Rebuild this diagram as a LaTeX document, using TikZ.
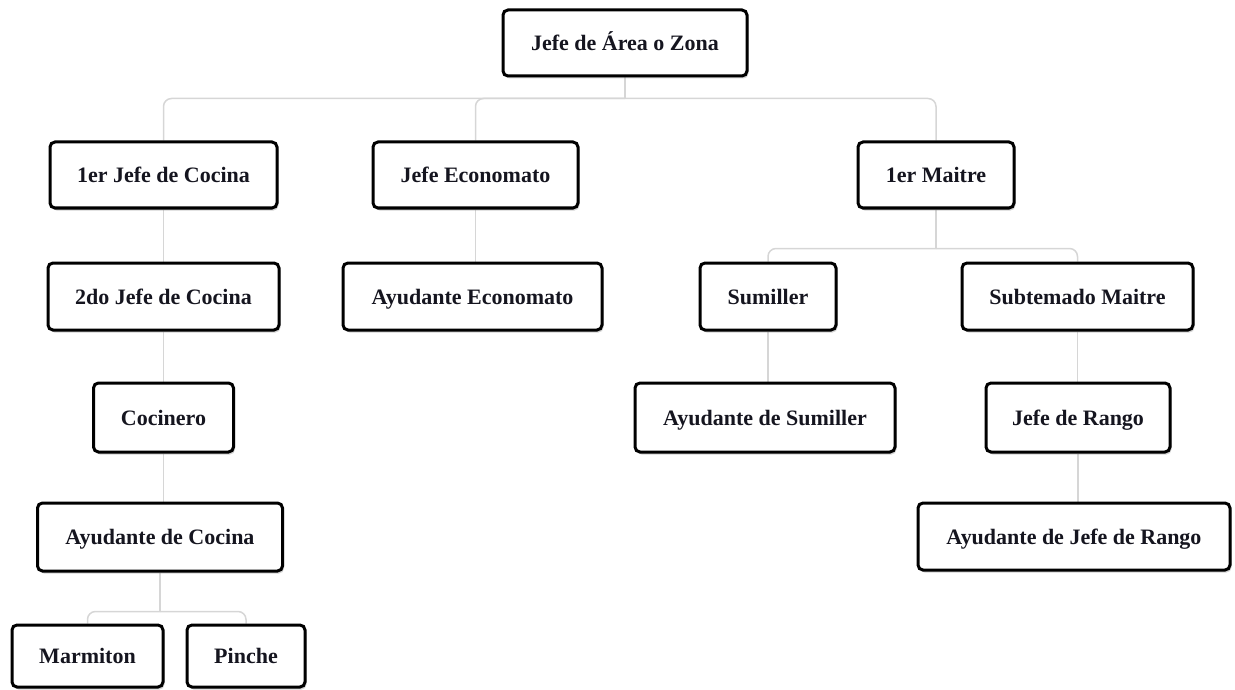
\documentclass[tikz,border=0pt]{standalone}
\usepackage{fontspec}
\setmainfont{Liberation Serif}
\usetikzlibrary{shadows,backgrounds}
\definecolor{linkgray}{HTML}{D6D6D6}
\definecolor{txt}{HTML}{15151F}
\tikzset{
  orgbox/.style={draw=black, line width=3pt, rounded corners=5pt, fill=white,
    drop shadow={shadow xshift=1.5pt, shadow yshift=-2.5pt, opacity=0.35},
    inner sep=0pt, text height=15pt, text depth=0pt, text=txt,
    font=\fontsize{22}{26}\selectfont\bfseries},
  link/.style={draw=linkgray, line width=1.5pt},
  rlink/.style={link, rounded corners=8pt}
}
\begin{document}
\begin{tikzpicture}[x=1pt,y=-1pt]
\useasboundingbox (0,0) rectangle (1235,690);
% boxes
\node[orgbox, minimum width=244pt, minimum height=66pt] (top) at (625,43) {Jefe de Área o Zona};
\node[orgbox, minimum width=227pt, minimum height=66pt] (coc1) at (163.5,175) {1er Jefe de Cocina};
\node[orgbox, minimum width=205pt, minimum height=66pt] (econ) at (475.5,175) {Jefe Economato};
\node[orgbox, minimum width=156pt, minimum height=66pt] (mait) at (936,175) {1er Maitre};
\node[orgbox, minimum width=231pt, minimum height=67pt] (coc2) at (163.5,296.5) {2do Jefe de Cocina};
\node[orgbox, minimum width=259pt, minimum height=67pt] (ayecon) at (472.5,296.5) {Ayudante Economato};
\node[orgbox, minimum width=136pt, minimum height=67pt] (sum) at (768,296.5) {Sumiller};
\node[orgbox, minimum width=231pt, minimum height=67pt] (subt) at (1077.5,296.5) {Subtemado Maitre};
\node[orgbox, minimum width=140pt, minimum height=69pt] (cocinero) at (163.5,417.5) {Cocinero};
\node[orgbox, minimum width=260pt, minimum height=69pt] (aysum) at (765,417.5) {Ayudante de Sumiller};
\node[orgbox, minimum width=184pt, minimum height=69pt] (rango) at (1078,417.5) {Jefe de Rango};
\node[orgbox, minimum width=245pt, minimum height=68pt] (aycoc) at (160,537) {Ayudante de Cocina};
\node[orgbox, minimum width=312pt, minimum height=67pt] (ayrango) at (1074,536.5) {Ayudante de Jefe de Rango};
\node[orgbox, minimum width=151pt, minimum height=62pt] (marm) at (87.5,656) {Marmiton};
\node[orgbox, minimum width=118pt, minimum height=62pt] (pinche) at (246,656) {Pinche};
% connectors
\begin{scope}[on background layer]
\coordinate (j0) at ([yshift=-21pt]top.south);
\coordinate (j1) at ([yshift=-39pt]mait.south);
\coordinate (j2) at ([yshift=-39pt]aycoc.south);
\draw[link] (top.south) -- (j0);
\draw[rlink] (j0) -| (coc1.north);
\draw[rlink] (j0) -| (econ.north);
\draw[rlink] (j0) -| (mait.north);
\draw[link] (coc1.south) -- (coc2.north);
\draw[link] (coc2.south) -- (cocinero.north);
\draw[link] (cocinero.south) -- (cocinero.south |- aycoc.north);
\draw[link] (econ.south) -- (econ.south |- ayecon.north);
\draw[link] (mait.south) -- (j1);
\draw[rlink] (j1) -| (sum.north);
\draw[rlink] (j1) -| (subt.north);
\draw[link] (sum.south) -- (sum.south |- aysum.north);
\draw[link] (subt.south) -- (subt.south |- rango.north);
\draw[link] (rango.south) -- (rango.south |- ayrango.north);
\draw[link] (aycoc.south) -- (j2);
\draw[rlink] (j2) -| (marm.north);
\draw[rlink] (j2) -| (pinche.north);
\end{scope}
\end{tikzpicture}
\end{document}
